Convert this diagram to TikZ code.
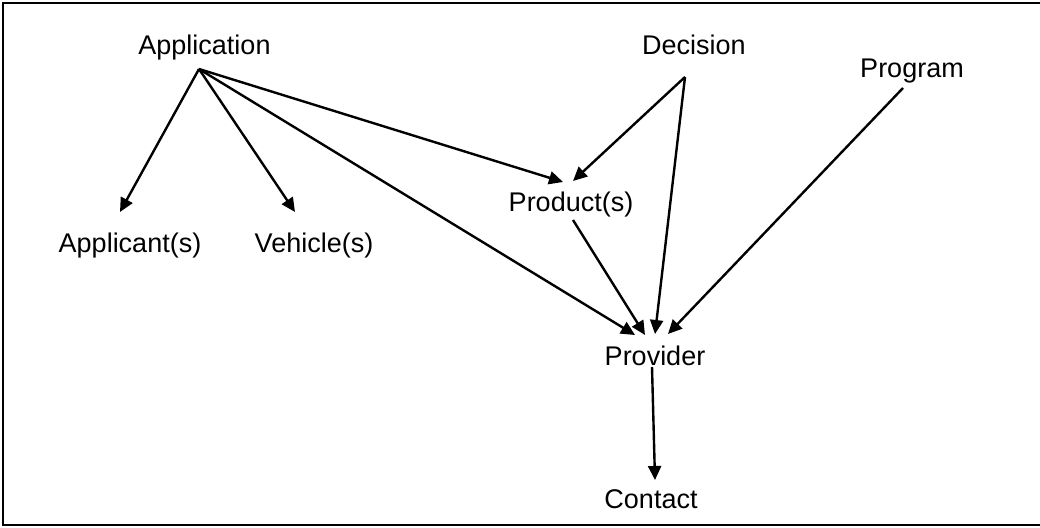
\documentclass[tikz,border=0pt]{standalone}
\usepackage{fontspec}
\setmainfont{Liberation Sans}
\usetikzlibrary{arrows.meta}
\begin{document}
\begin{tikzpicture}[x=1pt,y=-1pt,
  lbl/.style={anchor=base,inner sep=0pt,font=\fontsize{27}{32}\selectfont},
  conn/.style={line width=2.4pt,-{Triangle[length=14pt,width=13pt]}}]
\useasboundingbox (0,0) rectangle (1040,527);
\draw[line width=2.6pt] (1042,3) -- (3,3) -- (3,525) -- (1042,525);
% labels
\node[lbl] (app) at (204.5,55) {Application};
\node[lbl] (dec) at (694,55) {Decision};
\node[lbl] (prog) at (912,77) {Program};
\node[lbl] (prod) at (571,211.5) {Product(s)};
\node[lbl] (appl) at (130,252) {Applicant(s)};
\node[lbl] (veh) at (314,252) {Vehicle(s)};
\node[lbl] (prov) at (655,365) {Provider};
\node[lbl] (cont) at (651,508) {Contact};
% connector end points
\coordinate (appS) at (199,69);
\coordinate (decS) at (685,77);
\coordinate (progS) at (903,88);
\coordinate (prodS) at (573,220);
\coordinate (provS) at (652,367);
\coordinate (applT) at (120,212);
\coordinate (vehT) at (295,212);
\coordinate (prodT1) at (563,182);
\coordinate (prodT2) at (573,181);
\coordinate (provT1) at (635,335);
\coordinate (provT2) at (645,335);
\coordinate (provT3) at (655,334);
\coordinate (provT4) at (668,334);
\coordinate (contT) at (655,480);
% connectors
\draw[conn] (appS) -- (applT);
\draw[conn] (appS) -- (vehT);
\draw[conn] (appS) -- (prodT1);
\draw[conn] (appS) -- (provT1);
\draw[conn] (decS) -- (prodT2);
\draw[conn] (decS) -- (provT3);
\draw[conn] (prodS) -- (provT2);
\draw[conn] (progS) -- (provT4);
\draw[conn] (provS) -- (contT);
\end{tikzpicture}
\end{document}
